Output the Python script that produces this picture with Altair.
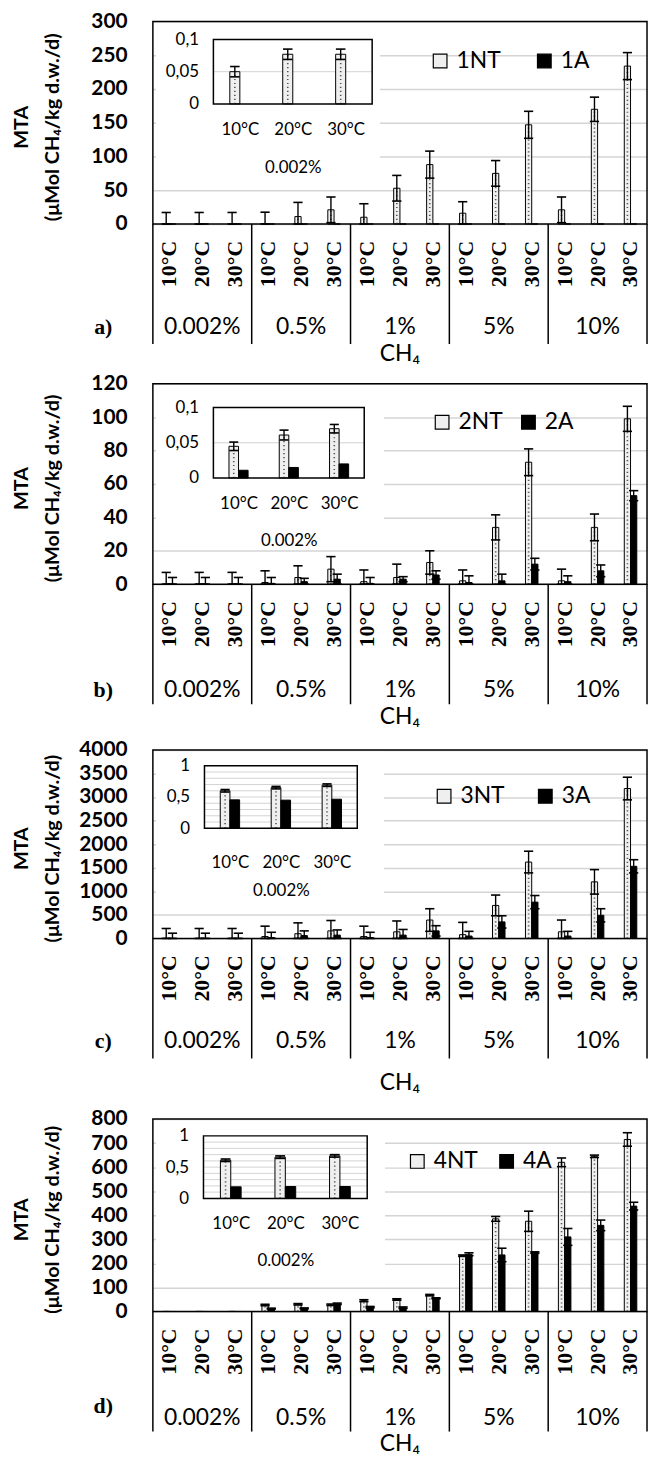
import json
import altair as alt
import pandas as pd

# ---------------- data ----------------
temps = ["10°C", "20°C", "30°C"]
concs = ["0.002%", "0.5%", "1%", "5%", "10%"]
panel_tags = ["a)", "b)", "c)", "d)"]
nt_names = ["1NT", "2NT", "3NT", "4NT"]
a_names = ["1A", "2A", "3A", "4A"]
x_title = "CH₄"
y_title = ["MTA", "(μMol CH₄/kg d.w./d)"]

# panel a
a_nt = [0.05, 0.077, 0.077, 0.5, 11, 21, 10, 53, 88, 16, 75, 147, 21, 170, 234]
a_nt_err = [17, 17, 17, 17, 21, 19, 20, 19, 20, 17, 19, 20, 19, 18, 20]
a_a = [0, 0, 0, 0, 0, 0, 0, 0, 0, 0, 0, 0, 0, 0, 0]
a_a_err = [0, 0, 0, 0, 0, 0, 0, 0, 0, 0, 0, 0, 0, 0, 0]
a_yticks = [0, 50, 100, 150, 200, 250, 300]
a_in_nt = [0.05, 0.077, 0.077]
a_in_nt_err = [0.008, 0.008, 0.008]
a_in_a = [0, 0, 0]
a_in_ticks = [0, 0.05, 0.1]
a_in_grid = [0.05]

# panel b
b_nt = [0.045, 0.061, 0.07, 1, 4, 9, 1.5, 4, 13, 2, 34, 73, 2, 34, 99]
b_nt_err = [7, 7, 7, 7, 7, 7.5, 7, 8, 7, 6.5, 7.5, 8, 7, 8, 7.5]
b_a = [0.011, 0.015, 0.02, 0.5, 1.5, 3, 0.5, 3, 5.5, 1, 2, 12, 1.5, 8, 53]
b_a_err = [4, 4, 4, 3.5, 2, 3, 3.5, 1.5, 2.5, 4, 4, 3.5, 3.5, 3.5, 3]
b_yticks = [0, 20, 40, 60, 80, 100, 120]
b_in_nt = [0.045, 0.061, 0.07]
b_in_nt_err = [0.006, 0.007, 0.006]
b_in_a = [0.011, 0.015, 0.02]
b_in_ticks = [0, 0.05, 0.1]
b_in_grid = [0.05]

# panel c
c_nt = [0.6, 0.65, 0.69, 40, 100, 160, 40, 140, 390, 80, 700, 1620, 140, 1200, 3180]
c_nt_err = [210, 210, 210, 220, 230, 220, 220, 230, 240, 260, 220, 230, 250, 260, 240]
c_a = [0.455, 0.45, 0.465, 20, 60, 70, 20, 70, 160, 50, 350, 770, 50, 490, 1530]
c_a_err = [110, 110, 110, 110, 100, 110, 110, 120, 110, 100, 130, 140, 100, 140, 140]
c_yticks = [0, 500, 1000, 1500, 2000, 2500, 3000, 3500, 4000]
c_in_nt = [0.6, 0.65, 0.69]
c_in_nt_err = [0.02, 0.02, 0.02]
c_in_a = [0.455, 0.45, 0.465]
c_in_ticks = [0, 0.5, 1]
c_in_grid = [0.1, 0.2, 0.3, 0.4, 0.5, 0.6, 0.7, 0.8, 0.9]

# panel d
d_nt = [0.61, 0.66, 0.68, 27, 30, 28, 45, 50, 68, 232, 385, 375, 620, 645, 715]
d_nt_err = [0, 0, 0, 3, 3, 3, 4, 3, 3, 3, 10, 42, 18, 5, 28]
d_a = [0.185, 0.19, 0.19, 12, 13, 32, 18, 16, 55, 238, 235, 245, 310, 358, 438]
d_a_err = [0, 0, 0, 2, 2, 3, 3, 3, 2, 6, 28, 3, 35, 22, 16]
d_yticks = [0, 100, 200, 300, 400, 500, 600, 700, 800]
d_in_nt = [0.61, 0.66, 0.68]
d_in_nt_err = [0.02, 0.02, 0.02]
d_in_a = [0.185, 0.19, 0.19]
d_in_ticks = [0, 0.5, 1]
d_in_grid = [0.1, 0.2, 0.3, 0.4, 0.5, 0.6, 0.7, 0.8, 0.9]

# ---------------- layout / style ----------------
W = 498
SPACING = 164
SANS = "Lato"
SERIF = "Liberation Serif"
NT_FILL = "#efefef"
GRID = "#d4d4d4"

# h: plot height, L: height given to the layout (h + free room below)
geo_a = dict(h=204, L=201, ix0=61, ix1=221, iyb=83, iyt=18, wr=229, wb=163, lx=278, ly=28, cp=32, ilp=18, itp=22, cy=104, tagy=104, chy=131)
geo_b = dict(h=202, L=205, ix0=61, ix1=213, iyb=95, iyt=24, wr=233, wb=163, lx=280, ly=27, cp=14, ilp=18, itp=21, cy=107, tagy=107, chy=134)
geo_c = dict(h=190, L=208, ix0=52, ix1=206, iyb=79, iyt=16, wr=233, wb=158, lx=282, ly=35, cp=29, ilp=27, itp=12, cy=103, tagy=103, chy=146)
geo_d = dict(h=194, L=194, ix0=51, ix1=216, iyb=80, iyt=17, wr=234, wb=160, lx=255, ly=31, cp=17, ilp=17, itp=22, cy=107, tagy=95, chy=134)


def bar_frame(nt, nt_err, av, a_err, ntn, an, cap):
    rows = []
    for i in range(len(nt)):
        rows.append(dict(series=ntn, x0=i + 0.31, x1=i + 0.5, c=i + 0.405, val=nt[i], err=nt_err[i]))
        rows.append(dict(series=an, x0=i + 0.5, x1=i + 0.69, c=i + 0.595, val=av[i], err=a_err[i]))
    df = pd.DataFrame(rows)
    df["base"] = 0.0
    df["lo"] = (df["val"] - df["err"]).clip(lower=0)
    df["hi"] = df["val"] + df["err"]
    df["cl"] = df["c"] - cap
    df["cr"] = df["c"] + cap
    return df


def panel(idx, nt, nt_err, av, a_err, yticks, in_nt, in_nt_err, in_a, in_ticks, in_grid, geo):
    h = geo["h"]
    n = len(nt)
    ntn, an = nt_names[idx], a_names[idx]

    bars = bar_frame(nt, nt_err, av, a_err, ntn, an, 0.14)
    errs = bars[bars["err"] > 0]
    dots = bars[(bars["series"] == ntn) & (bars["val"] > 0)]

    def xs():
        return alt.Scale(domain=[0, n], range=[0, W], nice=False, zero=False)

    def ys():
        return alt.Scale(domain=[0, yticks[-1]], range=[h, 0], nice=False)

    yaxis = alt.Axis(
        orient="left", values=yticks, format="d", grid=True, gridColor=GRID, gridWidth=1.5,
        domain=False, ticks=False, labelFont=SANS, labelFontSize=21, labelFontWeight="bold",
        labelColor="black", labelPadding=26, labelOverlap=False, labelFlush=False,
        title=y_title, titleFont=SANS, titleFontSize=20, titleFontWeight="bold",
        titleColor="black", titleAngle=270, titleBaseline="bottom", titleAlign="center",
        titleX=-122, titleY=h / 2 + 4, titleLineHeight=31, zindex=0,
    )

    legend = alt.Legend(
        orient="none", legendX=geo["lx"], legendY=geo["ly"], direction="horizontal",
        title=None, labelFont=SANS, labelFontSize=23, labelColor="black",
        symbolType="square", symbolSize=190, symbolStrokeColor="black",
        symbolStrokeWidth=1.2, symbolOpacity=1, columnPadding=geo["cp"], labelOffset=5, padding=0,
    )

    one = pd.DataFrame({"k": [0]})
    white = alt.Chart(one).mark_rect(fill="white").encode(
        x=alt.value(3), x2=alt.value(geo["wr"]), y=alt.value(2), y2=alt.value(geo["wb"])
    )
    frame = alt.Chart(one).mark_rect(fillOpacity=0, stroke="black", strokeWidth=1.5).encode(
        x=alt.value(0), x2=alt.value(W), y=alt.value(0), y2=alt.value(h)
    )

    bar_layer = alt.Chart(bars).mark_bar(stroke="black", strokeWidth=1).encode(
        x=alt.X("x0:Q", scale=xs(), axis=None),
        x2="x1:Q",
        y=alt.Y("val:Q", scale=ys(), axis=yaxis),
        y2="base:Q",
        fill=alt.Fill("series:N", scale=alt.Scale(domain=[ntn, an], range=[NT_FILL, "black"]), legend=legend),
    )
    dot_layer = alt.Chart(dots).mark_rule(color="#555555", strokeWidth=1.6, strokeDash=[1.2, 2.8]).encode(
        x=alt.X("c:Q", scale=xs(), axis=None), y=alt.Y("base:Q", scale=ys(), axis=None), y2="val:Q"
    )
    err_layer = alt.Chart(errs).mark_rule(color="black", strokeWidth=1.4).encode(
        x=alt.X("c:Q", scale=xs(), axis=None), y=alt.Y("lo:Q", scale=ys(), axis=None), y2="hi:Q"
    )
    cap_hi = alt.Chart(errs).mark_rule(color="black", strokeWidth=1.6).encode(
        x=alt.X("cl:Q", scale=xs(), axis=None), x2="cr:Q", y=alt.Y("hi:Q", scale=ys(), axis=None)
    )
    cap_lo = alt.Chart(errs).mark_rule(color="black", strokeWidth=1.6).encode(
        x=alt.X("cl:Q", scale=xs(), axis=None), x2="cr:Q", y=alt.Y("lo:Q", scale=ys(), axis=None)
    )

    seps = pd.DataFrame({"b": [3 * g for g in range(len(concs) + 1)]})
    sep_layer = alt.Chart(seps).mark_rule(color="black", strokeWidth=1.5).encode(
        x=alt.X("b:Q", scale=xs(), axis=None), y=alt.value(h), y2=alt.value(h + 121)
    )
    tdf = pd.DataFrame({"c": [i + 0.5 for i in range(n)], "t": [temps[i % 3] for i in range(n)]})
    temp_layer = alt.Chart(tdf).mark_text(
        font=SERIF, fontSize=22, fontWeight="bold", angle=270, align="right", baseline="middle", color="black"
    ).encode(x=alt.X("c:Q", scale=xs(), axis=None), y=alt.value(h + 17), text="t:N")
    cdf = pd.DataFrame({"c": [3 * g + 1.5 for g in range(len(concs))], "t": concs})
    conc_layer = alt.Chart(cdf).mark_text(
        font=SANS, fontSize=23, align="center", baseline="middle", color="black"
    ).encode(x=alt.X("c:Q", scale=xs(), axis=None), y=alt.value(h + geo["cy"]), text="t:N")
    tag_layer = alt.Chart(pd.DataFrame({"t": [panel_tags[idx]]})).mark_text(
        font=SERIF, fontSize=22, fontWeight="bold", align="center", baseline="middle", color="black"
    ).encode(x=alt.value(-50), y=alt.value(h + geo["tagy"]), text="t:N")
    ch_layer = alt.Chart(pd.DataFrame({"t": [x_title]})).mark_text(
        font=SANS, fontSize=23, align="center", baseline="middle", color="black"
    ).encode(x=alt.value(W / 2), y=alt.value(h + geo["chy"]), text="t:N")

    # ----- inset -----
    ymax = in_ticks[-1]
    ibars = bar_frame(in_nt, in_nt_err, in_a, [0, 0, 0], ntn, an, 0.09)
    ierrs = ibars[ibars["err"] > 0]
    idots = ibars[(ibars["series"] == ntn) & (ibars["val"] > 0)]

    def xi():
        return alt.Scale(domain=[0, 3], range=[geo["ix0"], geo["ix1"]], nice=False, zero=False)

    def yi():
        return alt.Scale(domain=[0, ymax], range=[geo["iyb"], geo["iyt"]], nice=False)

    lab_expr = json.dumps(temps, ensure_ascii=False) + "[floor(datum.value)]"
    ix_axis = alt.Axis(
        orient="bottom", offset=-(geo["L"] - geo["iyb"]), values=[0.5, 1.5, 2.5], labelExpr=lab_expr,
        domain=False, ticks=False, grid=False, labelFont=SANS, labelFontSize=17, labelColor="black",
        labelPadding=geo["ilp"], labelFlush=False, labelOverlap=False,
        title=concs[0], titleFont=SANS, titleFontSize=17, titleFontWeight="normal", titleColor="black",
        titlePadding=geo["itp"], zindex=2,
    )
    iy_axis = alt.Axis(
        orient="left", offset=-geo["ix0"], values=in_ticks, format="~g",
        labelExpr="replace(datum.label, '.', ',')", domain=False, ticks=False, grid=False,
        labelFont=SANS, labelFontSize=17, labelColor="black", labelPadding=15,
        labelFlush=False, labelOverlap=False, title=None, zindex=2,
    )

    box = pd.DataFrame({"x0": [0], "x1": [3], "y0": [0], "y1": [ymax]})
    ibox_fill = alt.Chart(box).mark_rect(fill="white").encode(
        x=alt.X("x0:Q", scale=xi(), axis=ix_axis), x2="x1:Q",
        y=alt.Y("y0:Q", scale=yi(), axis=iy_axis), y2="y1:Q",
    )
    gdf = pd.DataFrame({"g": in_grid, "x0": [0] * len(in_grid), "x1": [3] * len(in_grid)})
    igrid = alt.Chart(gdf).mark_rule(color=GRID, strokeWidth=1).encode(
        x=alt.X("x0:Q", scale=xi(), axis=None), x2="x1:Q", y=alt.Y("g:Q", scale=yi(), axis=None)
    )
    ibar_layer = alt.Chart(ibars[ibars["val"] > 0]).mark_bar(stroke="black", strokeWidth=1).encode(
        x=alt.X("x0:Q", scale=xi(), axis=None), x2="x1:Q",
        y=alt.Y("val:Q", scale=yi(), axis=None), y2="base:Q",
        fill=alt.Fill("series:N", scale=alt.Scale(domain=[ntn, an], range=[NT_FILL, "black"]), legend=None),
    )
    idot_layer = alt.Chart(idots).mark_rule(color="#555555", strokeWidth=1.6, strokeDash=[1.2, 2.8]).encode(
        x=alt.X("c:Q", scale=xi(), axis=None), y=alt.Y("base:Q", scale=yi(), axis=None), y2="val:Q"
    )
    ierr_layer = alt.Chart(ierrs).mark_rule(color="black", strokeWidth=1.4).encode(
        x=alt.X("c:Q", scale=xi(), axis=None), y=alt.Y("lo:Q", scale=yi(), axis=None), y2="hi:Q"
    )
    icap_hi = alt.Chart(ierrs).mark_rule(color="black", strokeWidth=1.6).encode(
        x=alt.X("cl:Q", scale=xi(), axis=None), x2="cr:Q", y=alt.Y("hi:Q", scale=yi(), axis=None)
    )
    icap_lo = alt.Chart(ierrs).mark_rule(color="black", strokeWidth=1.6).encode(
        x=alt.X("cl:Q", scale=xi(), axis=None), x2="cr:Q", y=alt.Y("lo:Q", scale=yi(), axis=None)
    )
    ibox_line = alt.Chart(box).mark_rect(fillOpacity=0, stroke="black", strokeWidth=1.5).encode(
        x=alt.X("x0:Q", scale=xi(), axis=None), x2="x1:Q",
        y=alt.Y("y0:Q", scale=yi(), axis=None), y2="y1:Q",
    )

    return alt.layer(
        bar_layer, white, dot_layer, err_layer, cap_hi, cap_lo, frame,
        sep_layer, temp_layer, conc_layer, tag_layer, ch_layer,
        ibox_fill, igrid, ibar_layer, idot_layer, ierr_layer, icap_hi, icap_lo, ibox_line,
    ).resolve_scale(
        x="independent", y="independent", fill="independent"
    ).properties(width=W, height=geo["L"])


pa = panel(0, a_nt, a_nt_err, a_a, a_a_err, a_yticks, a_in_nt, a_in_nt_err, a_in_a, a_in_ticks, a_in_grid, geo_a)
pb = panel(1, b_nt, b_nt_err, b_a, b_a_err, b_yticks, b_in_nt, b_in_nt_err, b_in_a, b_in_ticks, b_in_grid, geo_b)
pc = panel(2, c_nt, c_nt_err, c_a, c_a_err, c_yticks, c_in_nt, c_in_nt_err, c_in_a, c_in_ticks, c_in_grid, geo_c)
pdd = panel(3, d_nt, d_nt_err, d_a, d_a_err, d_yticks, d_in_nt, d_in_nt_err, d_in_a, d_in_ticks, d_in_grid, geo_d)

chart = alt.vconcat(pa, pb, pc, pdd, spacing=SPACING, bounds="flush").properties(
    padding={"left": 3, "top": -3, "right": 1, "bottom": 1}
).configure_view(strokeWidth=0)

chart.save("out.html", embed_options={"renderer": "svg", "actions": False})
